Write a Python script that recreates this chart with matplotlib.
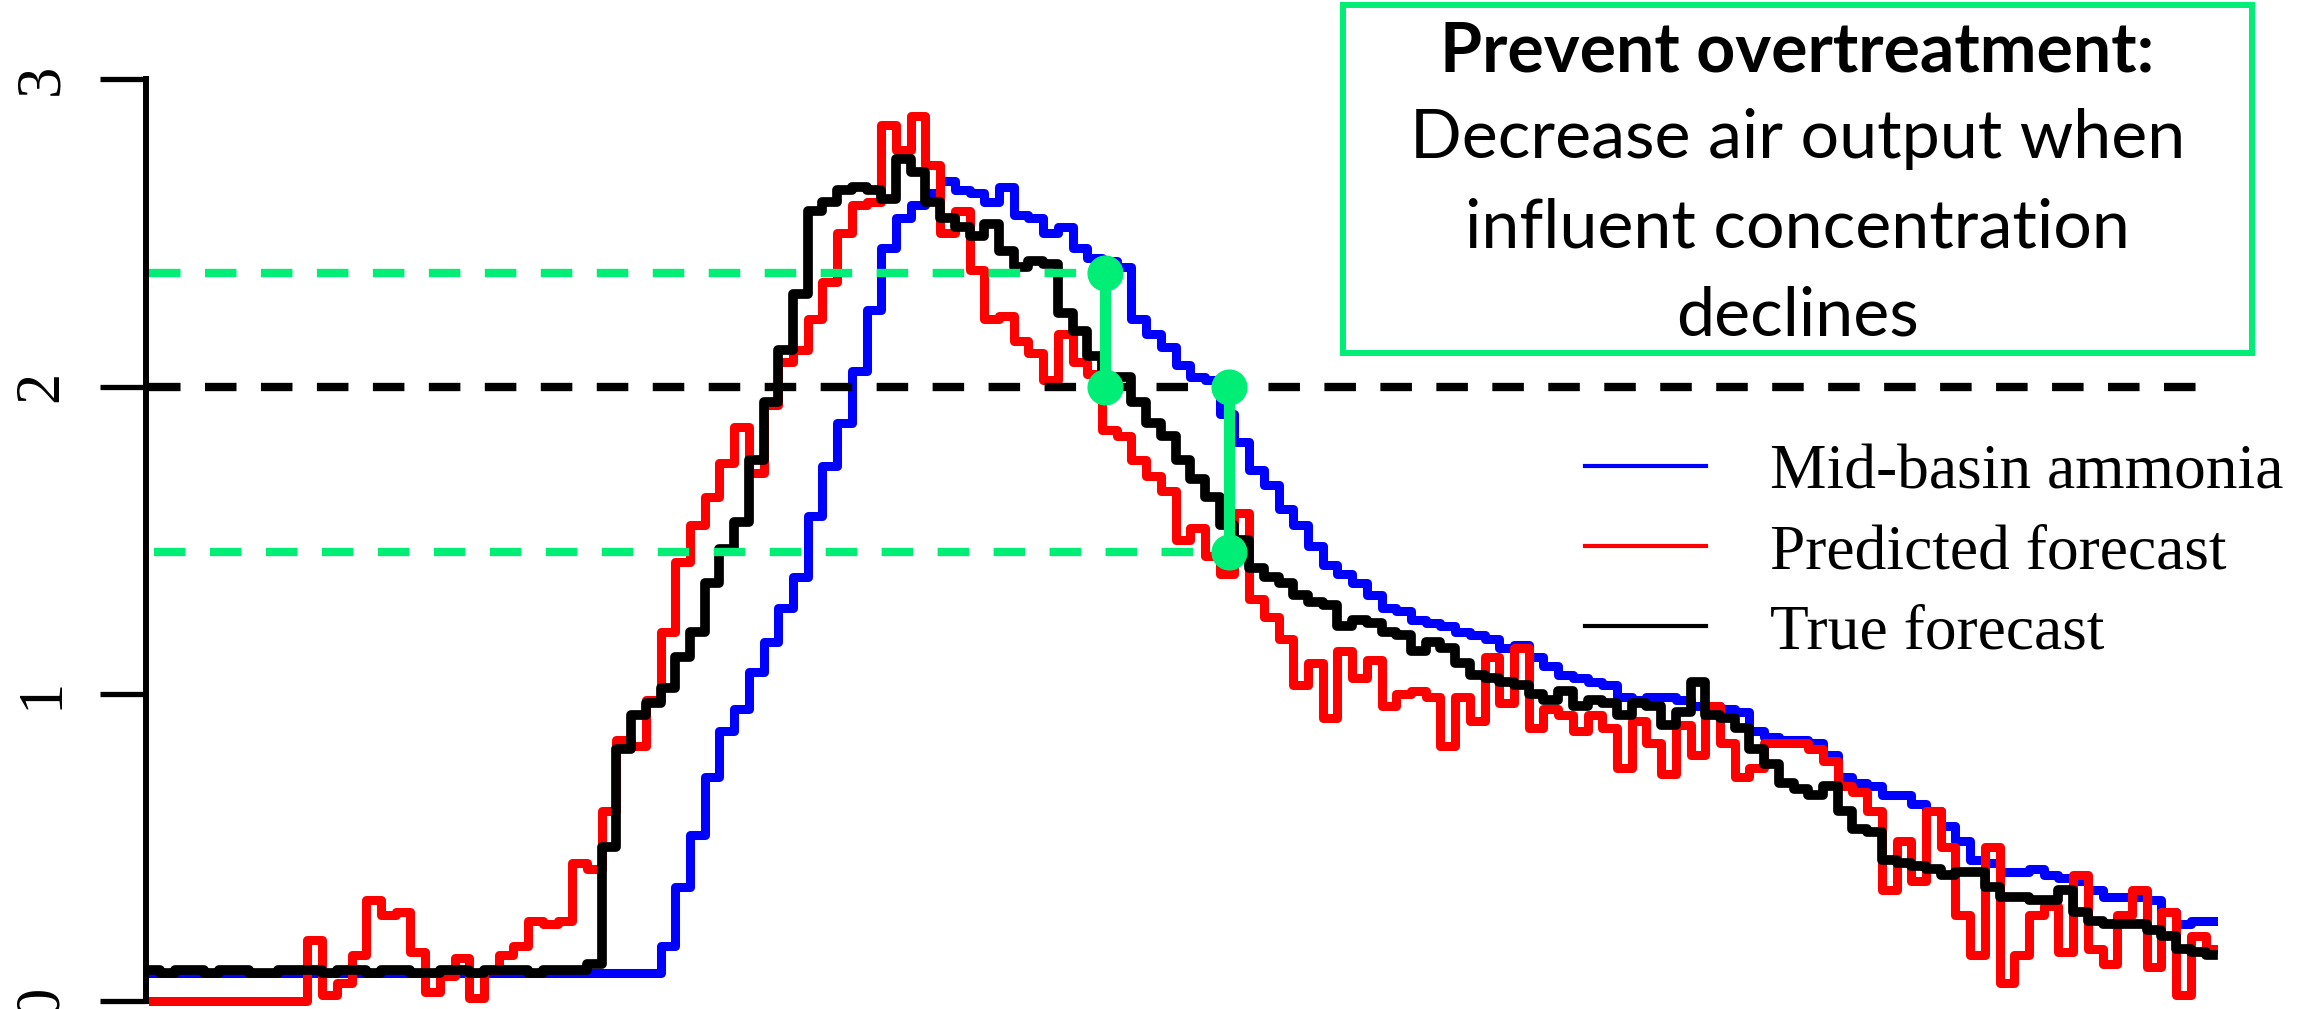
import numpy as np
import matplotlib.pyplot as plt
from matplotlib.lines import Line2D
from matplotlib.patches import Rectangle

plt.rcParams['lines.scale_dashes'] = False

# ---- values (one step ~ 15 px of the original trace) ----
step = np.arange(141)

mid_basin = [0.09, 0.09, 0.09, 0.09, 0.09, 0.09, 0.09, 0.09, 0.09, 0.09,
             0.09, 0.09, 0.09, 0.09, 0.09, 0.09, 0.09, 0.09, 0.09, 0.09,
             0.09, 0.09, 0.09, 0.09, 0.09, 0.09, 0.09, 0.09, 0.09, 0.09,
             0.09, 0.09, 0.09, 0.09, 0.09,
             0.18, 0.37, 0.54, 0.73, 0.88, 0.95, 1.07, 1.17, 1.28, 1.38,
             1.58, 1.74, 1.88, 2.05, 2.25, 2.45, 2.55, 2.59, 2.63, 2.67,
             2.64, 2.63, 2.60, 2.65, 2.56, 2.55, 2.50, 2.52, 2.45, 2.42,
             2.41, 2.39, 2.22, 2.17, 2.13, 2.07, 2.03, 2.02, 1.91, 1.82,
             1.73, 1.68, 1.60, 1.55, 1.48, 1.42, 1.39, 1.36, 1.32, 1.28,
             1.27, 1.24, 1.23, 1.22, 1.20, 1.19, 1.18, 1.15, 1.16, 1.12,
             1.09, 1.06, 1.05, 1.04, 1.03, 0.99, 0.98, 0.99, 0.99, 0.98,
             0.96, 0.96, 0.95, 0.94, 0.88, 0.86, 0.85, 0.85, 0.84, 0.80,
             0.73, 0.71, 0.70, 0.67, 0.67, 0.64, 0.62, 0.57, 0.52, 0.46,
             0.45, 0.42, 0.42, 0.43, 0.41, 0.40, 0.39, 0.36, 0.34, 0.34,
             0.34, 0.33, 0.29, 0.25, 0.26, 0.26]

predicted = [0.0, 0.0, 0.0, 0.0, 0.0, 0.0, 0.0, 0.0, 0.0, 0.0,
             0.0, 0.20, 0.02, 0.06, 0.15, 0.33, 0.28, 0.29, 0.16, 0.03,
             0.08, 0.14, 0.01, 0.10, 0.15, 0.18, 0.26, 0.25, 0.26, 0.45,
             0.43, 0.62, 0.85, 0.83, 0.98, 1.20, 1.43, 1.55, 1.64, 1.75,
             1.87, 1.72, 1.94, 2.08, 2.12, 2.22, 2.34, 2.50, 2.59, 2.60,
             2.85, 2.77, 2.88, 2.72, 2.50, 2.57, 2.38, 2.22, 2.23, 2.15,
             2.11, 2.02, 2.17, 2.08, 2.04, 1.86, 1.84, 1.76, 1.71, 1.66,
             1.50, 1.54, 1.45, 1.39, 1.59, 1.31, 1.25, 1.18, 1.03, 1.10,
             0.92, 1.14, 1.05, 1.11, 0.96, 1.00, 1.01, 0.99, 0.83, 0.99,
             0.91, 1.12, 0.97, 1.15, 0.89, 0.95, 0.93, 0.88, 0.93, 0.89,
             0.76, 0.91, 0.84, 0.74, 0.90, 0.80, 0.96, 0.84, 0.73, 0.76,
             0.84, 0.84, 0.84, 0.82, 0.78, 0.70, 0.68, 0.62, 0.36, 0.52,
             0.39, 0.62, 0.50, 0.28, 0.15, 0.50, 0.06, 0.15, 0.28, 0.31,
             0.16, 0.41, 0.17, 0.12, 0.28, 0.36, 0.11, 0.29, 0.02, 0.21,
             0.17]

true_fc = [0.10, 0.09, 0.10, 0.10, 0.09, 0.10, 0.10, 0.09, 0.09, 0.10,
           0.10, 0.10, 0.09, 0.10, 0.10, 0.09, 0.10, 0.10, 0.09, 0.09,
           0.10, 0.10, 0.09, 0.10, 0.10, 0.10, 0.09, 0.10, 0.10, 0.10,
           0.12, 0.50, 0.82, 0.93, 0.97, 1.02, 1.12, 1.20, 1.36, 1.47,
           1.56, 1.76, 1.95, 2.12, 2.30, 2.57, 2.60, 2.64, 2.65, 2.64,
           2.61, 2.74, 2.70, 2.60, 2.55, 2.52, 2.49, 2.53, 2.44, 2.39,
           2.41, 2.40, 2.24, 2.18, 2.10, 2.00, 2.03, 1.95, 1.88, 1.84,
           1.76, 1.70, 1.64, 1.55, 1.50, 1.41, 1.38, 1.36, 1.32, 1.30,
           1.29, 1.22, 1.24, 1.23, 1.20, 1.19, 1.14, 1.17, 1.15, 1.10,
           1.06, 1.05, 1.04, 1.03, 1.00, 0.98, 1.01, 0.96, 0.98, 0.97,
           0.93, 0.97, 0.96, 0.90, 0.94, 1.04, 0.93, 0.92, 0.89, 0.82,
           0.77, 0.71, 0.69, 0.67, 0.70, 0.62, 0.56, 0.55, 0.46, 0.45,
           0.44, 0.43, 0.41, 0.42, 0.42, 0.37, 0.34, 0.34, 0.33, 0.33,
           0.36, 0.29, 0.26, 0.25, 0.25, 0.25, 0.23, 0.21, 0.17, 0.16,
           0.15]

labels = ['Mid-basin ammonia', 'Predicted forecast', 'True forecast']
colors = ['#0000ff', '#ff0000', '#000000']

limit = 2.0
upper_band = 2.37
lower_band = 1.46
act_steps = [64.7, 73.1]      # where the air output is cut
y_ticks = [0, 1, 2, 3]
y_ticklabels = ['0', '1', '2', '3']

box_title = 'Prevent overtreatment:'
box_lines = ['Decrease air output when', 'influent concentration', 'declines']

green = '#00ee76'

# ---- layout, in pixels of the 2299x1009 image ----
W, H = 2299, 1009
x0, dx = 153, 14.714      # pixel of step 0, pixels per step
y0, dy = 1001, 307.2      # pixel row of value 0, pixels per unit


def px_to_step(px):
    return (px - x0) / dx


fig = plt.figure(figsize=(W / 100, H / 100), dpi=100)
ax = fig.add_axes([0, 0, 1, 1])
ax.set_xlim(px_to_step(0), px_to_step(W))
ax.set_ylim((y0 - H) / dy, y0 / dy)

for vals, c, lw in zip([mid_basin, predicted, true_fc], colors, [6.5, 6.5, 7]):
    ax.plot(step, vals, color=c, lw=lw, drawstyle='steps-mid')

dash = (22.7, 17.6)
ax.plot([px_to_step(149), px_to_step(2197)], [limit, limit],
        color='black', lw=6, dashes=dash, zorder=3)
ax.plot([px_to_step(149), act_steps[0]], [upper_band, upper_band],
        color=green, lw=6, dashes=dash, zorder=3)
ax.plot([px_to_step(154), act_steps[1]], [lower_band, lower_band],
        color=green, lw=6, dashes=dash, zorder=3)
ax.plot([act_steps[0], act_steps[0]], [upper_band, limit], color=green,
        lw=8, marker='o', ms=25, zorder=4)
ax.plot([act_steps[1], act_steps[1]], [limit, lower_band], color=green,
        lw=8, marker='o', ms=25, zorder=4)

# R style left axis only
for s in ['top', 'right', 'bottom']:
    ax.spines[s].set_visible(False)
ax.spines['left'].set_position(('data', px_to_step(146.3)))
ax.spines['left'].set_bounds(0, 3)
ax.spines['left'].set_linewidth(4.3)
ax.set_xticks([])
ax.tick_params(axis='y', length=33, width=3.8, pad=21)
ax.set_yticks(y_ticks, labels=y_ticklabels, fontsize=45,
              fontfamily='Liberation Serif', rotation=90, va='center')

renderer = fig.canvas.get_renderer()


def fit(txt, width_px):
    w = txt.get_window_extent(renderer).width
    txt.set_fontsize(txt.get_fontsize() * width_px / w)
    return txt.get_fontsize()


# annotation box
fig.patches.append(Rectangle((1343 / W, 1 - 353 / H), 909 / W, 348 / H,
                             transform=fig.transFigure, fill=False,
                             edgecolor=green, lw=4.3))
cx = 1797.5 / W
probe = fig.text(cx, 1 - 158.5 / H, box_lines[0], ha='center', va='baseline',
                 family='Lato', fontsize=40)
fs = fit(probe, 774)
fig.text(cx, 1 - 72 / H, box_title, ha='center', va='baseline',
         family='Lato', weight='bold', fontsize=fs)
for line, base in zip(box_lines[1:], [247, 336]):
    fig.text(cx, 1 - base / H, line, ha='center', va='baseline',
             family='Lato', fontsize=fs)

# legend
tmp = fig.text(0, 0, labels[0], family='Liberation Serif', fontsize=45)
leg_fs = fit(tmp, 513)
tmp.remove()
handles = [Line2D([], [], color=c, lw=3) for c in colors]
ax.legend(handles, labels, loc='upper left',
          bbox_to_anchor=(1585 / W, 1 - 444 / H), bbox_transform=fig.transFigure,
          frameon=False, prop={'family': 'Liberation Serif', 'size': leg_fs},
          handlelength=1.9, handletextpad=1.02, labelspacing=0.34,
          borderpad=0, borderaxespad=0)

fig.savefig('out.png', dpi=100, facecolor='white')
